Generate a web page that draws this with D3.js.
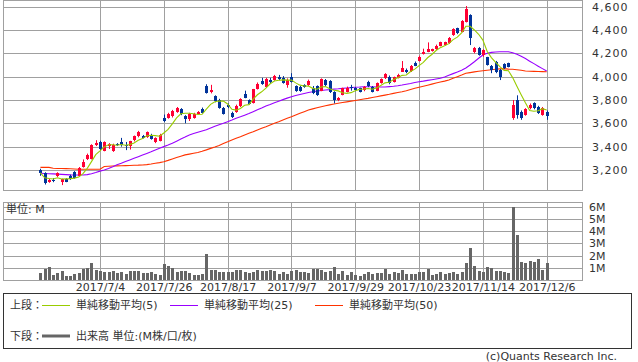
<!DOCTYPE html>
<html>
<head>
<meta charset="utf-8">
<script src="https://cdnjs.cloudflare.com/ajax/libs/d3/7.8.5/d3.min.js"></script>
<style>
body { margin: 0; background: #fff; }
text { font-family: "DejaVu Sans", "Noto Sans CJK JP", sans-serif; font-size: 11px; fill: #333; }
</style>
</head>
<body>
<div id="viz"></div>
<script>
// OHLC per trading day (2017/6/14 .. 2017/12/6)
var openP = [3200,3175,3100,3118,3150,3100,3123,3150,3180,3151, 3228,3292,3295,3410,3442,3363,3408,3360,3420,3440,
  3412,3407,3453,3487,3490,3482,3502,3439,3450,3646, 3646,3660,3694,3723,3660,3640,3648,3680,3725,3924,
  3866,3832,3803,3732,3760,3689,3697,3746,3855,3797, 3775,3896,3963,3914,3971,3971,4000,3986,3928,3994,
  3920,3914,3928,3928,3900,3920,3880,3971,3965,3871, 3800,3843,3871,3910,3900,3900,3885,3957,3914,3880,
  3943,3986,4000,3957,3990,4043,4060,4048,4120,4134, 4194,4214,4220,4234,4265,4270,4286,4357,4414,4385,
  4471,4528,4214,4248,4186,4166,4091,4128,4057,4108, 4114,3645,3800,3700,3671,3734,3777,3743,3671,3700]
var closeP = [3175,3090,3115,3112,3172,3120,3100,3125,3134,3214, 3266,3329,3415,3432,3377,3437,3420,3415,3412,3410,
  3405,3445,3487,3528,3478,3525,3467,3473,3502,3617, 3680,3703,3728,3680,3640,3680,3680,3697,3690,3861,
  3884,3789,3735,3683,3740,3654,3752,3809,3820,3766, 3890,3939,3935,3980,3951,4006,3977,3948,3971,3957,
  3880,3880,3914,3963,3862,3843,3977,3928,3871,3800, 3814,3900,3900,3900,3885,3871,3914,3920,3871,3943,
  3977,4023,3943,3994,4018,4077,4040,4094,4094,4171, 4214,4237,4234,4265,4294,4294,4329,4406,4371,4477,
  4577,4329,4248,4186,4228,4100,4057,4043,4000,4071, 4086,3760,3670,3643,3720,3757,3729,3686,3734,3663]
var highP = [3210,3180,3125,3130,3180,3125,3130,3160,3190,3225, 3290,3340,3420,3455,3450,3445,3430,3425,3430,3475,
  3440,3450,3495,3535,3500,3530,3510,3480,3510,3675, 3690,3715,3740,3730,3670,3690,3690,3705,3735,3935,
  3930,3840,3810,3740,3770,3700,3760,3815,3880,3805, 3895,3950,3990,3990,3990,4015,4015,4005,3985,4030,
  3925,3920,3935,3975,3920,3925,3985,3980,3970,3875, 3825,3905,3915,3930,3910,3905,3920,3965,3920,3950,
  3985,4030,4010,4000,4025,4134,4070,4100,4130,4180, 4240,4294,4240,4275,4300,4300,4340,4415,4420,4485,
  4606,4535,4255,4255,4235,4170,4100,4135,4065,4115, 4120,3800,3840,3710,3730,3770,3780,3750,3740,3710]
var lowP = [3150,3075,3090,3095,3140,3070,3095,3115,3125,3145, 3220,3285,3290,3405,3370,3360,3380,3355,3405,3400,
  3370,3375,3445,3480,3470,3475,3460,3430,3445,3610, 3640,3650,3690,3670,3600,3620,3640,3675,3685,3855,
  3857,3780,3725,3675,3730,3645,3690,3740,3815,3760, 3770,3890,3930,3905,3945,3965,3970,3940,3905,3950,
  3870,3870,3905,3920,3850,3835,3875,3920,3860,3771, 3790,3840,3865,3880,3875,3865,3875,3910,3865,3875,
  3940,3980,3935,3950,3985,4040,4030,4040,4090,4130, 4190,4210,4215,4230,4260,4265,4280,4350,4365,4380,
  4465,4271,4200,4180,4170,4095,4030,4030,3971,4065, 4080,3630,3640,3630,3665,3720,3720,3680,3665,3630]

// volume in M shares
var volume = [0.55,0.9,1.1,0.4,0.6,0.74,0.35,0.35,0.46,0.6, 0.9,0.96,1.42,0.82,0.74,0.68,0.68,0.74,0.6,0.68,
  0.52,0.74,0.74,0.74,0.55,0.6,0.68,0.5,0.4,1.34, 1.17,1.0,0.68,0.74,0.74,0.55,0.38,0.38,0.52,2.13,
  0.82,0.82,0.68,0.63,0.68,0.68,0.82,0.82,0.68,0.55, 0.68,0.82,0.74,0.74,0.82,0.74,0.5,0.63,0.52,0.74,
  0.82,0.63,0.63,0.55,0.9,0.9,0.82,0.63,0.74,1.07, 0.5,0.74,0.4,0.65,0.4,0.33,0.5,0.65,0.52,0.57,
  0.57,0.9,0.5,0.63,0.6,0.82,0.5,0.5,0.5,0.65, 0.65,0.9,0.4,0.5,0.63,0.52,0.57,0.65,0.52,0.65,
  1.37,2.6,1.12,0.74,0.68,1.07,0.96,0.74,0.74,0.63, 0.57,5.96,3.69,1.5,1.39,1.53,1.48,1.7,0.82,1.39]

// 25 / 50 day moving averages
var ma25 = [3172,3170,3168,3166,3164,3162,3160,3158,3157,3157, 3157,3160,3168,3178,3190,3200,3212,3228,3245,3258,
  3272,3286,3300,3314,3328,3342,3356,3371,3386,3400, 3414,3429,3447,3465,3482,3500,3512,3523,3534,3545,
  3560,3575,3588,3600,3614,3628,3643,3656,3670,3684, 3700,3716,3732,3749,3762,3776,3790,3803,3816,3828,
  3838,3847,3856,3864,3870,3876,3881,3886,3889,3893, 3896,3900,3903,3906,3909,3911,3914,3914,3913,3912,
  3912,3912,3915,3918,3922,3928,3935,3942,3950,3957, 3962,3968,3974,3980,3986,3998,4012,4026,4040,4055,
  4075,4100,4128,4158,4185,4200,4208,4212,4214,4214, 4214,4205,4192,4175,4155,4133,4112,4090,4069,4048]
var ma50 = [3222,3222,3222,3215,3213,3212,3211,3210,3208,3206, 3206,3206,3206,3206,3206,3230,3232,3234,3235,3236,
  3237,3238,3240,3241,3243,3246,3251,3257,3263,3271, 3282,3294,3306,3318,3329,3336,3343,3350,3360,3372,
  3385,3397,3410,3426,3441,3457,3471,3485,3500,3514, 3528,3543,3557,3571,3586,3600,3614,3629,3643,3657,
  3672,3686,3700,3714,3724,3733,3742,3750,3758,3766, 3772,3778,3784,3790,3796,3802,3808,3814,3821,3828,
  3835,3842,3849,3857,3864,3871,3880,3890,3900,3909, 3918,3927,3936,3945,3954,3962,3971,3986,4000,4014,
  4029,4035,4041,4046,4051,4055,4059,4063,4067,4069, 4065,4063,4060,4055,4048,4046,4045,4044,4043,4042]

var tickIndex = [14, 29, 44, 59, 74, 89, 104, 119]
var tickLabels = ["2017/7/4", "2017/7/26", "2017/8/17", "2017/9/7", "2017/9/29", "2017/10/23", "2017/11/14", "2017/12/6"]
var priceTicks = [3200, 3400, 3600, 3800, 4000, 4200, 4400, 4600]
var volTicks = [1, 2, 3, 4, 5, 6]

// 5 day average from the closes
var ma5 = closeP.map((c, i) => d3.mean(closeP.slice(Math.max(0, i - 4), i + 1)))

var W = 638, H = 362
var svg = d3.select("#viz").append("svg").attr("width", W).attr("height", H)

var x = d3.scaleLinear().domain([-8.8, 127.3]).range([3, 582])
var yP = d3.scaleLinear().domain([3028, 4649]).range([190, 1])
var yV = d3.scaleLinear().domain([0, 6.4]).range([280, 202])

var gridColor = "#a0a0a0"

function styleGrid(g) {
    g.select(".domain").remove()
    g.selectAll(".tick line").attr("stroke", gridColor).attr("shape-rendering", "crispEdges")
    g.selectAll(".tick text").attr("fill", "#333").style("font-size", "11px")
}

// ---- upper panel ----
svg.append("g")
    .attr("transform", "translate(582,0)")
    .call(d3.axisRight(yP).tickValues(priceTicks).tickSize(-579).tickPadding(10).tickFormat(d3.format(",")))
    .call(styleGrid)
    .selectAll("text").attr("text-anchor", "start").attr("font-family", null).style("letter-spacing", "1px")

svg.append("g")
    .attr("transform", "translate(0,190)")
    .call(d3.axisBottom(x).tickValues(tickIndex).tickSize(-189).tickFormat(""))
    .call(styleGrid)

svg.append("rect")
    .attr("x", 3.5).attr("y", 0.5).attr("width", 579).attr("height", 190)
    .attr("fill", "none").attr("stroke", gridColor)

// moving averages
var lineOf = arr => d3.line().x((d, i) => x(i)).y(d => yP(d))(arr)
svg.append("path").attr("d", lineOf(ma50)).attr("fill", "none").attr("stroke", "#ff3300").attr("stroke-width", 1.1)
svg.append("path").attr("d", lineOf(ma25)).attr("fill", "none").attr("stroke", "#9900ff").attr("stroke-width", 1.1)

// candles
var candles = svg.append("g").selectAll("g")
    .data(closeP.map((c, i) => ({i: i, o: openP[i], c: c, h: highP[i], l: lowP[i]})))
    .enter().append("g")

candles.append("line")
    .attr("x1", d => Math.round(x(d.i)) + 0.5).attr("x2", d => Math.round(x(d.i)) + 0.5)
    .attr("y1", d => yP(d.h)).attr("y2", d => yP(d.l))
    .attr("stroke", d => d.c >= d.o ? "#ff0033" : "#003399")

candles.append("rect")
    .attr("x", d => Math.round(x(d.i)) - 1)
    .attr("width", 3)
    .attr("y", d => yP(Math.max(d.o, d.c)))
    .attr("height", d => Math.max(1, yP(Math.min(d.o, d.c)) - yP(Math.max(d.o, d.c))))
    .attr("fill", d => d.c >= d.o ? "#ff0033" : "#003399")
    .attr("shape-rendering", "crispEdges")

svg.append("path").attr("d", lineOf(ma5)).attr("fill", "none").attr("stroke", "#99cc00").attr("stroke-width", 1.1)

// ---- volume panel ----
svg.append("g")
    .attr("transform", "translate(582,0)")
    .call(d3.axisRight(yV).tickValues(volTicks).tickSize(-579).tickPadding(7).tickFormat(d => d + "M"))
    .call(styleGrid)

svg.append("g")
    .attr("transform", "translate(0,280)")
    .call(d3.axisBottom(x).tickValues(tickIndex).tickSize(-78).tickPadding(3).tickFormat((d, i) => tickLabels[i]))
    .call(styleGrid)

svg.append("rect")
    .attr("x", 3.5).attr("y", 202.5).attr("width", 579).attr("height", 78)
    .attr("fill", "none").attr("stroke", gridColor)

svg.append("g").selectAll("rect")
    .data(volume)
    .enter().append("rect")
    .attr("x", (d, i) => Math.round(x(i)) - 1)
    .attr("width", 3)
    .attr("y", d => yV(d))
    .attr("height", d => yV(0) - yV(d))
    .attr("fill", "#666")
    .attr("shape-rendering", "crispEdges")

svg.append("text").attr("x", 6).attr("y", 213).text("単位: M")

// ---- legend ----
svg.append("rect")
    .attr("x", 3.5).attr("y", 293.5).attr("width", 628).attr("height", 55)
    .attr("fill", "none").attr("stroke", "#333")

var legendRow = [
    {x: 42, color: "#99cc00", label: "単純移動平均(5)"},
    {x: 170, color: "#9900ff", label: "単純移動平均(25)"},
    {x: 315, color: "#ff3300", label: "単純移動平均(50)"}
]
svg.append("text").attr("x", 10).attr("y", 309).text("上段：")
var lg = svg.append("g").selectAll("g").data(legendRow).enter().append("g")
lg.append("line").attr("x1", d => d.x).attr("x2", d => d.x + 28).attr("y1", 305.5).attr("y2", 305.5).attr("stroke", d => d.color)
lg.append("text").attr("x", d => d.x + 34).attr("y", 309).text(d => d.label)

svg.append("text").attr("x", 10).attr("y", 340).text("下段：")
svg.append("line").attr("x1", 42).attr("x2", 70).attr("y1", 336).attr("y2", 336).attr("stroke", "#666").attr("stroke-width", 3)
svg.append("text").attr("x", 76).attr("y", 340).text("出来高 単位:(M株/口/枚)")

svg.append("text").attr("x", 617).attr("y", 360).attr("text-anchor", "end").text("(c)Quants Research Inc.")
</script>
</body>
</html>
